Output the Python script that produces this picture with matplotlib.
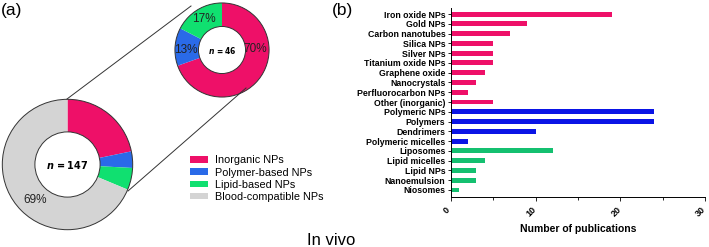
import numpy as np
import matplotlib
matplotlib.use("Agg")
import matplotlib.pyplot as plt
import matplotlib.transforms as mtransforms
from matplotlib.patches import Patch, Circle
from matplotlib.lines import Line2D

plt.rcParams['font.family'] = ['Liberation Sans', 'DejaVu Sans']

# ---- dados ----
pie_labels = ["Inorganic NPs", "Polymer-based NPs", "Lipid-based NPs", "Blood-compatible NPs"]
pie_all = [32, 6, 8, 101]          # n = 147
pie_sub = [32, 6, 8]               # n = 46
pie_colors = ["#EE1068", "#2A6AE8", "#10E070", "#D4D4D4"]

bar_labels = ["Iron oxide NPs", "Gold NPs", "Carbon nanotubes", "Silica NPs", "Silver NPs",
              "Titanium oxide NPs", "Graphene oxide", "Nanocrystals", "Perfluorocarbon NPs",
              "Other (inorganic)", "Polymeric NPs", "Polymers", "Dendrimers",
              "Polymeric micelles", "Liposomes", "Lipid micelles", "Lipid NPs",
              "Nanoemulsion", "Niosomes"]
bar_values = [19, 9, 7, 5, 5, 5, 4, 3, 2, 5, 24, 24, 10, 2, 12, 4, 3, 3, 1]
bar_group = [0] * 10 + [1] * 4 + [2] * 5
bar_group_colors = ["#EE1068", "#0A14E6", "#14C070"]

W, H = 709, 247
fig = plt.figure(figsize=(W / 100, H / 100), dpi=100)


def px_axes(x, y_top, w, h):
    # caixa em pixels (y medido a partir do topo)
    return fig.add_axes([x / W, 1 - (y_top + h) / H, w / W, h / H])


def donut(ax, values, start=90):
    ax.pie(values, colors=pie_colors[:len(values)], startangle=start, counterclock=False,
           radius=1.0, wedgeprops=dict(width=0.5, edgecolor="none"))
    ax.add_patch(Circle((0, 0), 1.0, fill=False, ec="#333333", lw=0.7))
    ax.add_patch(Circle((0, 0), 0.5, fill=False, ec="#333333", lw=0.7))
    ax.set_xlim(-1.02, 1.02)
    ax.set_ylim(-1.02, 1.02)
    ax.set_aspect("equal")
    ax.axis("off")


# donut grande
ax1 = px_axes(1, 98, 133, 133)
donut(ax1, pie_all)
ax1.text(0, 0, r"$\mathbfit{n}$$\mathbf{\,=147}$", ha="center", va="center", fontsize=7)
ax1.text(-0.5, -0.55, "69%", ha="center", va="center", fontsize=8.5, color="#222222")

# donut pequeno
ax2 = px_axes(174, 2, 96, 96)
donut(ax2, pie_sub)
ax2.text(0, 0, r"$\mathbfit{n}$$\mathbf{\,=46}$", ha="center", va="center", fontsize=5.5)
ax2.text(0.70, 0.02, "70%", ha="center", va="center", fontsize=8.5, color="#222222")
ax2.text(-0.76, 0.0, "13%", ha="center", va="center", fontsize=8.5, color="#222222")
ax2.text(-0.38, 0.66, "17%", ha="center", va="center", fontsize=8.5, color="#222222")

# linhas de ligação
for (xa, ya), (xb, yb) in [((67, 99), (191, 6)), ((128, 191), (246, 88))]:
    fig.add_artist(Line2D([xa / W, xb / W], [1 - ya / H, 1 - yb / H],
                          transform=fig.transFigure, color="#333333", lw=0.7))

# legenda
handles = [Patch(facecolor=c, edgecolor="none") for c in pie_colors]
fig.legend(handles, pie_labels, loc="upper left", bbox_to_anchor=(185 / W, 1 - 150 / H),
           frameon=False, fontsize=7.8, handlelength=1.6, handleheight=0.55,
           handletextpad=0.65, labelspacing=0.2, borderpad=0)

fig.text(1 / W, 1 - 11 / H, "(a)", fontsize=12.5, va="center", ha="left")
fig.text(332 / W, 1 - 11 / H, "(b)", fontsize=12.5, va="center", ha="left")
fig.text(331 / W, 1 - 240 / H, "In vivo", fontsize=12, va="center", ha="center")

# gráfico de barras
ax3 = fig.add_axes([451 / W, 50 / H, 254 / W, 189 / H])
ypos = np.arange(len(bar_values))
ax3.barh(ypos, bar_values, height=0.5, color=[bar_group_colors[g] for g in bar_group])
ax3.set_ylim(18.72, -0.62)
ax3.set_xlim(0, 30)
ax3.set_yticks(ypos)
ax3.set_yticklabels(bar_labels, fontsize=6.3, fontweight="bold")
ax3.set_xticks([0, 10, 20, 30])
ax3.set_xticks([5, 15, 25], minor=True)
ax3.tick_params(axis="y", length=2.5, width=0.6, pad=1.5)
ax3.tick_params(axis="x", which="major", length=3, width=0.6, pad=3)
ax3.tick_params(axis="x", which="minor", length=2.5, width=0.6)
ax3.set_xticklabels(["0", "10", "20", "30"], fontsize=6.5, fontweight="bold",
                    rotation=45, ha="center", va="top")
# leve deslocamento para a esquerda (o "30" não sai da figura)
shift = mtransforms.ScaledTranslation(-4 / 100, 0, fig.dpi_scale_trans)
for lbl in ax3.get_xticklabels():
    lbl.set_transform(lbl.get_transform() + shift)
ax3.set_xlabel("Number of publications", fontsize=7.5, fontweight="bold", labelpad=4)
for s in ["top", "right"]:
    ax3.spines[s].set_visible(False)
for s in ["left", "bottom"]:
    ax3.spines[s].set_linewidth(0.7)

fig.savefig("out.png", dpi=100)
